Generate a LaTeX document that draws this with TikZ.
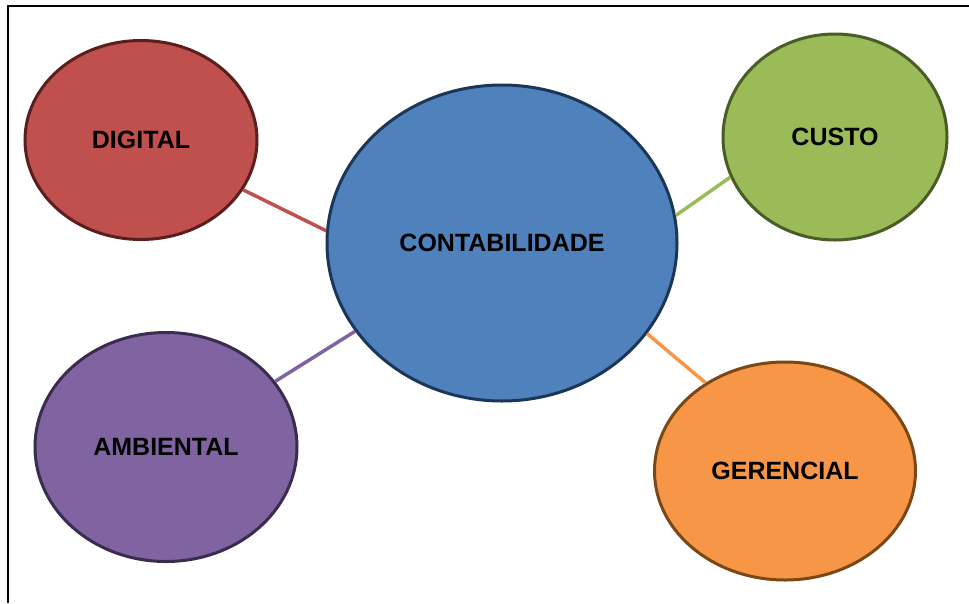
\documentclass[tikz,border=0pt]{standalone}
\usepackage{fontspec}
\setmainfont{Liberation Sans}
\usetikzlibrary{shapes.geometric}
\definecolor{redfill}{HTML}{C0504D}\definecolor{redline}{HTML}{5A1E1D}
\definecolor{bluefill}{HTML}{4F81BD}\definecolor{blueline}{HTML}{1B3657}
\definecolor{greenfill}{HTML}{9BBB59}\definecolor{greenline}{HTML}{4A5D27}
\definecolor{purplefill}{HTML}{8064A2}\definecolor{purpleline}{HTML}{3A2C4E}
\definecolor{orangefill}{HTML}{F79646}\definecolor{orangeline}{HTML}{7A4715}
\tikzset{
  bubble/.style={ellipse, line width=3pt, inner sep=0pt,
    font=\fontsize{25}{29}\selectfont\bfseries, text=black},
  link/.style={line width=3.5pt}
}
\begin{document}
\begin{tikzpicture}[x=1pt,y=-1pt]
\useasboundingbox (0,0) rectangle (969,603);
\fill[white] (0,0) rectangle (969,603);
\coordinate (fbl) at (8,603);
\coordinate (ftl) at (8,6);
\coordinate (ftr) at (969,6);
\draw[line width=2pt, black] (fbl) -- (ftl) -- (ftr);

\node[bubble, fill=bluefill, draw=blueline, minimum width=350pt, minimum height=316pt] (c) at (502,243) {CONTABILIDADE};
\node[bubble, fill=redfill, draw=redline, minimum width=232pt, minimum height=199pt] (d) at (141,140) {DIGITAL};
\node[bubble, fill=greenfill, draw=greenline, minimum width=224pt, minimum height=206pt] (cu) at (835,137) {CUSTO};
\node[bubble, fill=purplefill, draw=purpleline, minimum width=262pt, minimum height=229pt] (a) at (166,447) {AMBIENTAL};
\node[bubble, fill=orangefill, draw=orangeline, minimum width=261pt, minimum height=218pt] (g) at (785,471) {GERENCIAL};

\draw[link, redfill] (d.-26) -- (c.176);
\draw[link, greenfill] (c.9) -- (cu.201);
\draw[link, purplefill] (c.211) -- (a.31);
\draw[link, orangefill] (c.-32) -- (g.132);
\end{tikzpicture}
\end{document}
